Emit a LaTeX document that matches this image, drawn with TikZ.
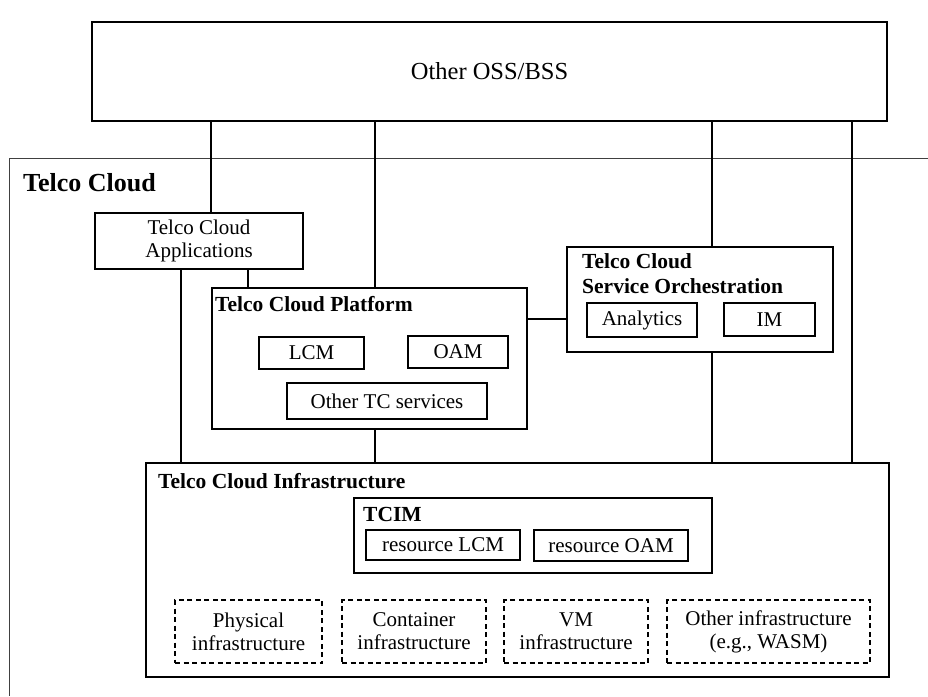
\documentclass[tikz,border=0pt]{standalone}
\usepackage{fontspec}
\setmainfont{Liberation Serif}
\usetikzlibrary{positioning}
\newcommand{\bodyfont}{\fontsize{21}{23}\selectfont}
\tikzset{
	box/.style = {draw, line width=1.4pt, align=center, inner sep=0pt},
	dashbox/.style = {draw, line width=1.3pt, dash pattern=on 5pt off 3.5pt, align=center, inner sep=0pt},
	ttl/.style = {font=\fontsize{21.5}{25}\selectfont\bfseries, anchor=base west, inner sep=0pt, align=left},
	link/.style = {line width=1.4pt},
}

\begin{document}
\begin{tikzpicture}[x=1pt, y=-1pt, font=\bodyfont]
\useasboundingbox (0,0) rectangle (928,696);
\draw[black!75, line width=0.8pt] (928,158) -| (9,696);
\node[ttl, font=\fontsize{26}{28}\selectfont\bfseries] (tc) at (23,191) {Telco Cloud};

\node[box, minimum width=795, minimum height=99, font=\fontsize{24.5}{26}\selectfont] (oss) at (489.5,71.5) {Other OSS/BSS};
\node[box, minimum width=208, minimum height=56] (apps) at (199,241) {Telco Cloud\\Applications};

\node[box, minimum width=315, minimum height=141] (plat) at (369.5,358.5) {};
\node[ttl] (platT) at (215,311) {Telco Cloud Platform};
\node[box, minimum width=105, minimum height=32] (lcm) at (311.5,353) {LCM};
\node[box, minimum width=100, minimum height=32] (oam) at (458,352) {OAM};
\node[box, minimum width=200, minimum height=36] (otc) at (387,401) {Other TC services};

\node[box, minimum width=266, minimum height=105] (orch) at (700,299.5) {};
\node[ttl] (orchT) at (582,293) {Telco Cloud\\Service Orchestration};
\node[box, minimum width=110, minimum height=34] (ana) at (642,320) {Analytics};
\node[box, minimum width=91, minimum height=33] (im) at (769.5,319.5) {IM};

\node[box, minimum width=743, minimum height=214] (infra) at (517.5,570) {};
\node[ttl] (infraT) at (158,488) {Telco Cloud Infrastructure};
\node[box, minimum width=358, minimum height=75] (tcim) at (533,535.5) {};
\node[ttl] (tcimT) at (363,521) {TCIM};
\node[box, minimum width=154, minimum height=30] (rlcm) at (443,545) {resource LCM};
\node[box, minimum width=154, minimum height=31] (roam) at (611,545.5) {resource OAM};

\node[dashbox, minimum width=147, minimum height=63] (phy) at (248.5,631.5) {Physical\\infrastructure};
\node[dashbox, minimum width=144, minimum height=63] (cont) at (414,631.5) {Container\\infrastructure};
\node[dashbox, minimum width=144, minimum height=63] (vm) at (576,631.5) {VM\\infrastructure};
\node[dashbox, minimum width=203, minimum height=63] (oth) at (768.5,631.5) {Other infrastructure\\(e.g., WASM)};

\coordinate (x1) at (211,0);
\coordinate (x2) at (375,0);
\coordinate (x3) at (712,0);
\coordinate (x4) at (852,0);
\coordinate (x5) at (181,0);
\coordinate (x6) at (248,0);
\coordinate (y1) at (0,319);

\draw[link] (oss.south -| x1) -- (apps.north -| x1);
\draw[link] (oss.south -| x2) -- (plat.north -| x2);
\draw[link] (plat.south -| x2) -- (infra.north -| x2);
\draw[link] (oss.south -| x3) -- (orch.north -| x3);
\draw[link] (orch.south -| x3) -- (infra.north -| x3);
\draw[link] (oss.south -| x4) -- (infra.north -| x4);
\draw[link] (apps.south -| x5) -- (infra.north -| x5);
\draw[link] (apps.south -| x6) -- (plat.north -| x6);
\draw[link] (plat.east |- y1) -- (orch.west |- y1);
\end{tikzpicture}
\end{document}
